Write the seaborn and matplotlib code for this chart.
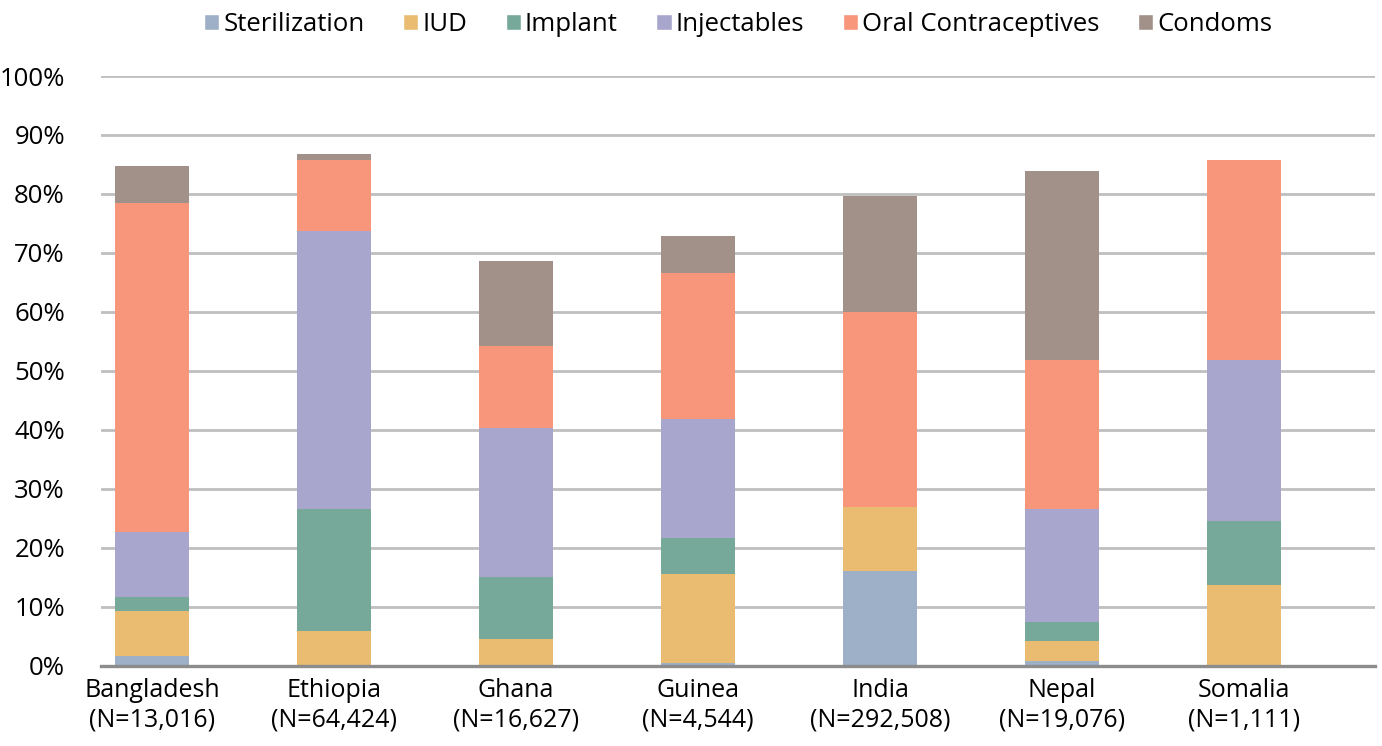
import numpy as np
import pandas as pd
import seaborn as sns
import matplotlib.pyplot as plt
from matplotlib.patches import Patch

countries = ["Bangladesh\n(N=13,016)", "Ethiopia\n(N=64,424)", "Ghana\n(N=16,627)",
             "Guinea\n(N=4,544)", "India\n(N=292,508)", "Nepal\n(N=19,076)", "Somalia\n(N=1,111)"]
methods = ["Sterilization", "IUD", "Implant", "Injectables", "Oral Contraceptives", "Condoms"]

sterilization = [1.6, 0.0, 0.0, 0.4, 16.0, 0.8, 0.0]
iud           = [7.6, 5.9, 4.5, 15.1, 10.9, 3.4, 13.7]
implant       = [2.4, 20.6, 10.5, 6.1, 0.0, 3.2, 10.8]
injectables   = [11.1, 47.2, 25.3, 20.2, 0.0, 19.1, 27.3]
oral          = [55.8, 12.1, 13.9, 24.8, 33.1, 25.3, 34.0]
condoms       = [6.2, 1.0, 14.4, 6.3, 19.6, 32.1, 0.0]

colors = ["#9EB0C8", "#E9BC72", "#77A99B", "#A8A6CD", "#F7967A", "#A29189"]

sns.set_style("white")
plt.rcParams['font.family'] = ['Open Sans', 'DejaVu Sans']
plt.rcParams['text.color'] = 'black'
plt.rcParams['xtick.color'] = 'black'
plt.rcParams['ytick.color'] = 'black'

series = [sterilization, iud, implant, injectables, oral, condoms]
cum = np.cumsum(np.array(series), axis=0)

fig = plt.figure(figsize=(13.82, 7.46), dpi=100)
ax = fig.add_axes([0.0731, 0.1079, 0.9219, 0.7902])

# draw cumulative totals from the top series down so each layer overlays the next
for i in range(len(methods) - 1, -1, -1):
    df = pd.DataFrame({"country": countries, "value": cum[i]})
    sns.barplot(data=df, x="country", y="value", color=colors[i], width=0.41,
                saturation=1, ax=ax, linewidth=0, zorder=3)

ax.set_ylim(0, 100)
ax.set_xlim(-0.28, 6.72)
ax.set_yticks(np.arange(0, 101, 10))
ax.set_yticklabels([f"{v}%" for v in range(0, 101, 10)], fontsize=18.5)
ax.tick_params(axis='x', labelsize=18, length=0, pad=9, labelcolor='black')
ax.tick_params(axis='y', length=0, pad=26, labelcolor='black')
for lab in ax.get_xticklabels():
    lab.set_linespacing(1.25)
ax.set_xlabel("")
ax.set_ylabel("")
ax.yaxis.grid(True, color="#BFBFBF", linewidth=2.0, zorder=0)
ax.set_axisbelow(True)
for s in ["top", "right", "left"]:
    ax.spines[s].set_visible(False)
ax.spines["bottom"].set_color("#8C8C8C")
ax.spines["bottom"].set_linewidth(2.4)
ax.spines["bottom"].set_zorder(4)

handles = [Patch(facecolor=c, label=m) for c, m in zip(colors, methods)]
fig.legend(handles=handles, loc="upper center", bbox_to_anchor=(0.534, 1.015), ncol=6,
           frameon=False, fontsize=18.5, handlelength=0.6, handleheight=0.6,
           handletextpad=0.15, columnspacing=1.5)

fig.savefig("out.png", dpi=100)
